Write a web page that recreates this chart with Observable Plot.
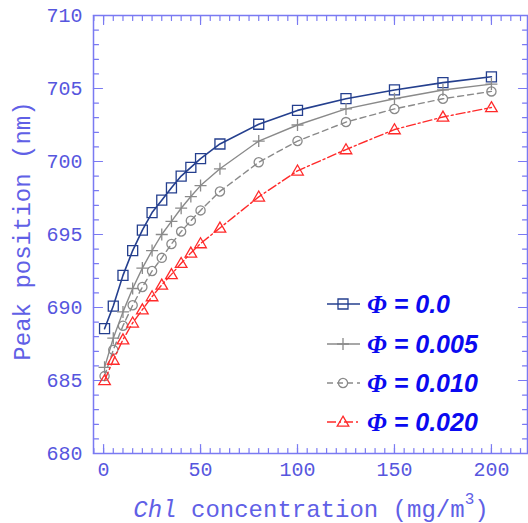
<!DOCTYPE html>
<html><head><meta charset="utf-8">
<script src="https://cdn.jsdelivr.net/npm/d3@7"></script>
<script src="https://cdn.jsdelivr.net/npm/@observablehq/plot@0.6"></script>
<style>body{margin:0;background:#fff} #chart{width:528px;height:523px}</style>
</head><body><div id="chart"></div>
<script>
// ---- data ----
const conc = [0.5, 5, 10, 15, 20, 25, 30, 35, 40, 45, 50, 60, 80, 100, 125, 150, 175, 200];
const phi0   = [688.55, 690.1, 692.2, 693.9, 695.3, 696.5, 697.35, 698.2, 699.0, 699.6, 700.2, 701.2, 702.55, 703.5, 704.3, 704.9, 705.4, 705.8];
const phi005 = [685.9, 687.9, 689.7, 691.3, 692.7, 693.9, 695.0, 695.9, 696.8, 697.6, 698.35, 699.5, 701.4, 702.5, 703.6, 704.3, 704.9, 705.3];
const phi010 = [685.3, 687.1, 688.75, 690.15, 691.4, 692.5, 693.4, 694.35, 695.2, 695.95, 696.65, 697.95, 699.95, 701.4, 702.7, 703.6, 704.3, 704.8];
const phi020 = [685.0, 686.4, 687.8, 688.95, 689.85, 690.75, 691.55, 692.27, 693.03, 693.74, 694.38, 695.45, 697.58, 699.36, 700.82, 702.19, 703.05, 703.7];
const seriesValues = ["0.0", "0.005", "0.010", "0.020"];
const xTicks = [0, 50, 100, 150, 200];
const yTicks = [680, 685, 690, 695, 700, 705, 710];

// ---- styles ----
const axisColor = "#7a7af2";
const labelColor = "#5656de";
const titleColor = "#6060e6";
const colors = ["#243f8e", "#8a8a8a", "#8a8a8a", "#ff2a2a"];
const dashes = [null, null, "6,4", "9,3,2,3"];
const widths = [1.6, 1.4, 1.4, 1.4];

const sq = {draw(c) { c.rect(-5, -5, 10, 10); }};
const plus = {draw(c) { c.moveTo(-6, 0); c.lineTo(6, 0); c.moveTo(0, -6); c.lineTo(0, 6); }};
const circ = {draw(c) { c.moveTo(4.6, 0); c.arc(0, 0, 4.6, 0, 2 * Math.PI); }};
const tri = {draw(c) { c.moveTo(0, -5.8); c.lineTo(5.8, 4.2); c.lineTo(-5.8, 4.2); c.closePath(); }};
const symbols = [sq, plus, circ, tri];

const series = [phi0, phi005, phi010, phi020].map((arr, k) => arr.map((v, i) => ({k, x: conc[i], y: v})));

const tickShape = {draw(c, l) { c.moveTo(0, 0); c.lineTo(0, -l); }};
const minorX = d3.range(-5, 219, 5);
const minorY = d3.range(680, 710.5, 1);
const majorY = yTicks;

function ticks(data, channel, anchor, rotate, len) {
  const o = {frameAnchor: anchor, length: len, rotate, anchor: "start", shape: tickShape, stroke: axisColor, strokeWidth: 1.2};
  o[channel] = d => d;
  return Plot.vector(data, o);
}

const marks = [
  Plot.frame({stroke: axisColor, strokeWidth: 1.5}),
  ticks(minorX, "x", "bottom", 0, 5), ticks(xTicks, "x", "bottom", 0, 9),
  ticks(minorX, "x", "top", 180, 5), ticks(xTicks, "x", "top", 180, 9),
  ticks(minorY, "y", "left", 90, 5), ticks(majorY, "y", "left", 90, 9),
  ticks(minorY, "y", "right", -90, 5), ticks(majorY, "y", "right", -90, 9),
  Plot.axisX(xTicks, {anchor: "bottom", tickSize: 0, tickPadding: 8, color: labelColor, fontSize: 20, label: null}),
  Plot.axisY(yTicks, {anchor: "left", tickSize: 0, tickPadding: 11, color: labelColor, fontSize: 20, label: null}),
];
series.forEach((d, k) => {
  marks.push(Plot.line(d, {x: "x", y: "y", stroke: colors[k], strokeWidth: widths[k], strokeDasharray: dashes[k]}));
  marks.push(Plot.dot(d, {x: "x", y: "y", symbol: symbols[k], r: 5, stroke: colors[k], fill: "none", strokeWidth: 1.3}));
});

const chart = Plot.plot({
  width: 528, height: 523,
  marginLeft: 93, marginRight: 1, marginTop: 15, marginBottom: 70,
  x: {domain: [-5.2, 218.6], axis: null},
  y: {domain: [680, 710], axis: null},
  style: {fontFamily: "'Liberation Mono', monospace", fontSize: "20px", background: "#fff"},
  marks
});
document.getElementById("chart").appendChild(chart);

// ---- axis titles & legend ----
const svg = d3.select(chart);
svg.append("text")
  .attr("transform", "translate(23,231) rotate(-90)")
  .attr("text-anchor", "middle").attr("dominant-baseline", "central")
  .attr("font-family", "'Liberation Mono', monospace").attr("font-size", 24)
  .attr("fill", titleColor).text("Peak position (nm)");
const xt = svg.append("text")
  .attr("x", 311).attr("y", 510)
  .attr("text-anchor", "middle").attr("dominant-baseline", "central")
  .attr("font-family", "'Liberation Mono', monospace").attr("font-size", 24)
  .attr("fill", titleColor);
xt.append("tspan").attr("font-style", "italic").text("Chl");
xt.append("tspan").text(" concentration (mg/m");
xt.append("tspan").attr("font-size", 16).attr("dy", -10).text("3");
xt.append("tspan").attr("dy", 10).text(")");

const rowsY = [304, 344, 383, 422];
seriesValues.forEach((v, k) => {
  const g = svg.append("g");
  g.append("line").attr("x1", 327).attr("x2", 360).attr("y1", rowsY[k]).attr("y2", rowsY[k])
    .attr("stroke", colors[k]).attr("stroke-width", widths[k]).attr("stroke-dasharray", dashes[k]);
  const p = d3.path(); symbols[k].draw(p, 0);
  g.append("path").attr("d", p.toString()).attr("transform", `translate(343,${rowsY[k]})`)
    .attr("fill", "none").attr("stroke", colors[k]).attr("stroke-width", 1.3);
  const t = g.append("text").attr("x", 367).attr("y", rowsY[k]).attr("dominant-baseline", "central")
    .attr("text-anchor", "start")
    .attr("font-family", "'Liberation Sans', Arial, sans-serif").attr("font-weight", "bold")
    .attr("font-style", "italic").attr("font-size", 25).attr("fill", "#0a0af0");
  t.append("tspan").attr("font-family", "'Liberation Serif', serif").text("Φ");
  t.append("tspan").text(" = " + v);
});
</script>
</body></html>
